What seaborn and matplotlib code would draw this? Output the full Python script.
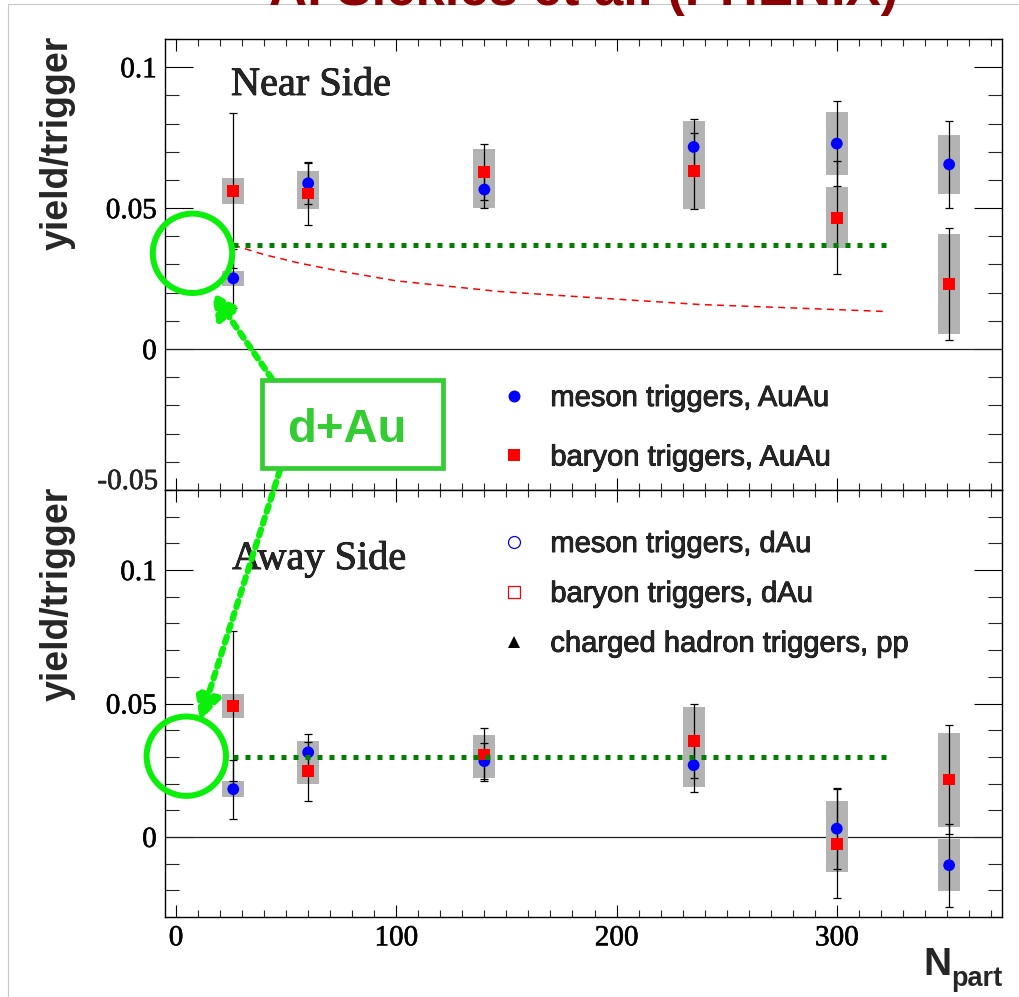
import matplotlib
matplotlib.use("Agg")
import matplotlib.pyplot as plt
import matplotlib.patheffects as pe
import seaborn as sns
import numpy as np
from matplotlib.patches import Circle, Rectangle, FancyArrowPatch
from matplotlib.lines import Line2D
from matplotlib.ticker import MultipleLocator, FuncFormatter

# ---------------- data ----------------
npart = [26, 60, 140, 235, 300, 351]

# near side, Au+Au
near_meson = [0.0251, 0.0588, 0.0566, 0.0717, 0.0729, 0.0655]
near_meson_stat = [0.0105, 0.0072, 0.0065, 0.0099, 0.0150, 0.0154]
near_meson_sys = [0.0027, 0.0043, 0.0067, 0.0091, 0.0112, 0.0104]
near_baryon = [0.0561, 0.0552, 0.0628, 0.0632, 0.0466, 0.0231]
near_baryon_stat = [0.0275, 0.0112, 0.0099, 0.0136, 0.0200, 0.0198]
near_baryon_sys = [0.0047, 0.0056, 0.0083, 0.0136, 0.0109, 0.0176]

# away side, Au+Au
away_meson = [0.0179, 0.0317, 0.0284, 0.0269, 0.0031, -0.0106]
away_meson_stat = [0.0110, 0.0067, 0.0068, 0.0100, 0.0153, 0.0156]
away_meson_sys = [0.0030, 0.0042, 0.0063, 0.0081, 0.0104, 0.0097]
away_baryon = [0.0490, 0.0246, 0.0309, 0.0359, -0.0025, 0.0215]
away_baryon_stat = [0.0280, 0.0110, 0.0100, 0.0138, 0.0205, 0.0204]
away_baryon_sys = [0.0045, 0.0049, 0.0072, 0.0129, 0.0106, 0.0176]

# d+Au reference levels
ref_npart = [26, 323]
near_ref = [0.0369, 0.0369]
away_ref = [0.030, 0.030]

# expected near-side baryon yield from dilution
curve_npart = [26, 40, 56, 72, 100, 147, 192, 238, 283, 323]
curve_yield = [0.0369, 0.0335, 0.0305, 0.0280, 0.0242, 0.0204, 0.0181, 0.0158, 0.0145, 0.0133]

# ---------------- style ----------------
sns.set_style("white")
plt.rcParams["font.family"] = ["Liberation Sans", "DejaVu Sans"]

W, H = 1019, 997
fig = plt.figure(figsize=(W / 100, H / 100), dpi=100)

HEAVY = [pe.withStroke(linewidth=0.6, foreground="black")]
SERIF = "Liberation Serif"


def fx(x):
    return x / W


def fy(y):
    return 1 - y / H


def inch(x, y):
    return (x / 100, (H - y) / 100)


ax1 = fig.add_axes([fx(165), fy(490), (1002 - 165) / W, (490 - 39) / H])
ax2 = fig.add_axes([fx(165), fy(917), (1002 - 165) / W, (917 - 490) / H])

GRAY = "#b3b3b3"
BLUE = "#0000ff"
RED = "#ff0000"


def yfmt(v, pos):
    if abs(v) < 1e-9:
        return "0"
    if v < -0.04:
        return ""
    return f"{v:g}"


def draw_panel(ax, meson, meson_stat, meson_sys, baryon, baryon_stat, baryon_sys, ref):
    ax.axhline(0, color="#222222", lw=0.9, zorder=1)
    for vals, sys_ in ((meson, meson_sys), (baryon, baryon_sys)):
        v = np.array(vals)
        s = np.array(sys_)
        ax.bar(npart, 2 * s, bottom=v - s, width=10, color=GRAY, linewidth=0, zorder=2)
    ax.errorbar(npart, meson, yerr=meson_stat, fmt="none", ecolor="black",
                elinewidth=0.9, capsize=3, capthick=0.9, zorder=3)
    ax.errorbar(npart, baryon, yerr=baryon_stat, fmt="none", ecolor="black",
                elinewidth=0.9, capsize=3, capthick=0.9, zorder=3)
    sns.scatterplot(x=npart, y=meson, ax=ax, marker="o", s=72, color=BLUE,
                    edgecolor="none", linewidth=0, zorder=4, legend=False)
    sns.scatterplot(x=npart, y=baryon, ax=ax, marker="s", s=72, color=RED,
                    edgecolor="none", linewidth=0, zorder=4, legend=False)
    ax.plot(ref_npart, ref, color="#008000", lw=3.6, linestyle=(0, (1, 1.4)),
            solid_capstyle="butt", zorder=5)

    ax.set_xlim(-5, 375)
    ax.xaxis.set_major_locator(MultipleLocator(100))
    ax.xaxis.set_minor_locator(MultipleLocator(10))
    ax.yaxis.set_major_locator(MultipleLocator(0.05))
    ax.yaxis.set_minor_locator(MultipleLocator(0.01))
    ax.yaxis.set_major_formatter(FuncFormatter(yfmt))
    ax.tick_params(axis="x", which="major", direction="in", length=8.6, width=0.8,
                   top=True, bottom=True, pad=6)
    ax.tick_params(axis="x", which="minor", direction="in", length=4.7, width=0.8,
                   top=True, bottom=True)
    ax.tick_params(axis="y", which="major", direction="in", length=20, width=0.8,
                   left=True, right=True, pad=6)
    ax.tick_params(axis="y", which="minor", direction="in", length=10, width=0.8,
                   left=True, right=True)
    ax.tick_params(labelsize=21, colors="black")
    for sp in ax.spines.values():
        sp.set_linewidth(1.0)
        sp.set_color("black")
    ax.set_xlabel("")
    ax.set_ylabel("")


draw_panel(ax1, near_meson, near_meson_stat, near_meson_sys,
           near_baryon, near_baryon_stat, near_baryon_sys, near_ref)
ax1.plot(curve_npart, curve_yield, color=RED, lw=1.1, linestyle=(0, (4.5, 3.5)), zorder=3.5)
ax1.set_ylim(-0.05, 0.11)
ax1.tick_params(labelbottom=False)

draw_panel(ax2, away_meson, away_meson_stat, away_meson_sys,
           away_baryon, away_baryon_stat, away_baryon_sys, away_ref)
ax2.set_ylim(-0.03, 0.13)

# lowest label of the upper panel sits above its tick
fig.text(fx(158), fy(489), "-0.05", ha="right", va="baseline",
         fontsize=21, family=SERIF, path_effects=[pe.withStroke(linewidth=0.4, foreground="black")])

# panel captions
fig.text(fx(231), fy(95), "Near Side", fontsize=29, family=SERIF,
         va="baseline", path_effects=HEAVY)
fig.text(fx(232), fy(569), "Away Side", fontsize=29, family=SERIF,
         va="baseline", path_effects=HEAVY)

# axis titles
for ytop in (36, 487):
    fig.text(fx(58), fy(ytop), "yield/trigger", rotation=90, ha="center", va="top",
             fontsize=27, fontweight="bold")
fig.text(fx(923), fy(975), "N", fontsize=28, fontweight="bold", va="baseline")
fig.text(fx(951), fy(986), "part", fontsize=19.5, fontweight="bold", va="baseline")

# legends
h_top = [
    Line2D([], [], ls="none", marker="o", color=BLUE, markersize=8.6, markeredgewidth=0),
    Line2D([], [], ls="none", marker="s", color=RED, markersize=8.6, markeredgewidth=0),
]
leg1 = ax1.legend(h_top, ["meson triggers, AuAu", "baryon triggers, AuAu"],
                  loc="upper left", bbox_to_anchor=(fx(499), fy(384)),
                  bbox_transform=fig.transFigure, frameon=False, borderpad=0,
                  borderaxespad=0, handlelength=1.0, handletextpad=0.76,
                  labelspacing=1.08, prop={"family": "Liberation Sans", "size": 21})
h_bot = [
    Line2D([], [], ls="none", marker="o", markerfacecolor="none", markeredgecolor=BLUE,
           markersize=8.6, markeredgewidth=0.9),
    Line2D([], [], ls="none", marker="s", markerfacecolor="none", markeredgecolor=RED,
           markersize=8.6, markeredgewidth=0.9),
    Line2D([], [], ls="none", marker="^", color="black", markersize=9, markeredgewidth=0),
]
leg2 = ax2.legend(h_bot, ["meson triggers, dAu", "baryon triggers, dAu",
                          "charged hadron triggers, pp"],
                  loc="upper left", bbox_to_anchor=(fx(499), fy(530)),
                  bbox_transform=fig.transFigure, frameon=False, borderpad=0,
                  borderaxespad=0, handlelength=1.0, handletextpad=0.76,
                  labelspacing=0.75, prop={"family": "Liberation Sans", "size": 21})
for leg in (leg1, leg2):
    for t in leg.get_texts():
        t.set_path_effects(HEAVY)

# d+Au callout
LIME = "#0af00a"
for (cx, cy) in ((192.5, 253.3), (186.3, 756.2)):
    fig.add_artist(Circle(inch(cx, cy), 0.397, transform=fig.dpi_scale_trans,
                          fill=False, edgecolor=LIME, lw=4.3, zorder=10))
for (a, b) in (((272, 379), (212, 292)), ((280, 470), (200, 721))):
    fig.add_artist(FancyArrowPatch(inch(*a), inch(*b), transform=fig.dpi_scale_trans,
                                   arrowstyle="-|>,head_length=0.5,head_width=0.25",
                                   mutation_scale=30, lw=4.5, linestyle=(0, (1, 1.0)),
                                   color=LIME, shrinkA=0, shrinkB=0, zorder=9))
fig.add_artist(Rectangle(inch(262, 468), 1.81, 0.88, transform=fig.dpi_scale_trans,
                         facecolor="white", edgecolor="#33cc33", lw=3.4, zorder=11))
fig.text(fx(347), fy(442), "d+Au", ha="center", va="baseline", fontsize=34,
         fontweight="bold", color="#33cc33", zorder=12)

# page frame and header
fig.add_artist(Line2D([fx(7.5), fx(7.5)], [0, fy(4.3)], transform=fig.transFigure,
                      color="#c8c8c8", lw=0.8))
fig.add_artist(Line2D([fx(7.5), 1], [fy(4.3), fy(4.3)], transform=fig.transFigure,
                      color="#c8c8c8", lw=0.8))
fig.text(fx(583.5), fy(4.5), "A. Sickles et al. (PHENIX)", ha="center", va="baseline",
         fontsize=38, fontweight="bold", color="#8b0000", zorder=20)

# serif tick numbers, set once the ticks exist
fig.canvas.draw()
for ax in (ax1, ax2):
    for t in ax.get_xticklabels() + ax.get_yticklabels():
        t.set_fontfamily(SERIF)
        t.set_fontsize(21)
        t.set_path_effects([pe.withStroke(linewidth=0.4, foreground="black")])

fig.savefig("out.png", dpi=100)
